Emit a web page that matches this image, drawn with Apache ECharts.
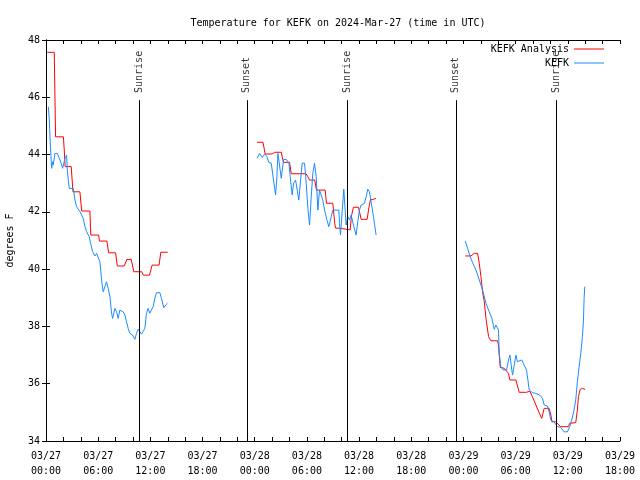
<!DOCTYPE html>
<html><head><meta charset="utf-8">
<script src="https://cdn.jsdelivr.net/npm/echarts@6/dist/echarts.min.js"></script>
<style>html,body{margin:0;padding:0;background:#fff}#c{width:640px;height:480px}</style>
</head><body><div id="c"></div>
<script>
// hours since 2024-03-27 00:00 UTC
const xTickLabels = ['03/27\n00:00','03/27\n06:00','03/27\n12:00','03/27\n18:00',
  '03/28\n00:00','03/28\n06:00','03/28\n12:00','03/28\n18:00',
  '03/29\n00:00','03/29\n06:00','03/29\n12:00','03/29\n18:00'];

// KEFK Analysis (red); null = data gap
const analysisTimes = [
  0.15,0.95,1.1,2.0,2.1,2.2,2.9,3.1,3.9,4.1,5.05,5.15,6.05,6.15,7.0,7.2,8.0,8.2,9.0,9.3,9.8,10.1,11.0,11.2,11.9,12.2,13.0,13.2,14.0,
  18,
  24.26,24.95,25.2,26.0,26.3,27.05,27.3,28.0,28.2,29.9,30.1,30.3,30.9,31.1,32.1,32.25,32.98,33.2,33.3,33.75,33.85,34.97,35.12,35.35,35.93,36.24,36.93,37.1,37.3,37.65,37.96,
  42,
  48.21,48.86,49.24,49.63,49.82,50.01,50.2,50.4,50.59,50.89,51.16,51.92,52.03,52.23,52.69,53.18,53.34,54.03,54.41,55.25,55.63,55.93,56.32,56.7,57.0,57.28,57.85,58.05,58.17,58.6,59.18,60.06,60.22,60.91,61.1,61.22,61.41,61.68,61.99
];
const analysisTemps = [
  47.57,47.57,44.62,44.62,44.16,43.58,43.58,42.70,42.70,42.03,42.03,41.19,41.19,40.98,40.98,40.57,40.57,40.11,40.11,40.34,40.34,39.91,39.91,39.79,39.79,40.14,40.14,40.59,40.59,
  null,
  44.43,44.43,44.02,44.02,44.08,44.08,43.73,43.73,43.33,43.33,43.23,43.11,43.11,42.76,42.76,42.30,42.30,41.60,41.43,41.43,41.37,41.37,41.85,42.16,42.16,41.74,41.74,42.10,42.42,42.44,42.47,
  null,
  40.46,40.46,40.55,40.55,40.20,39.74,39.21,38.86,38.28,37.64,37.50,37.50,37.35,36.57,36.54,36.36,36.13,36.13,35.70,35.70,35.74,35.55,35.26,34.99,34.79,35.14,35.14,34.91,34.67,34.67,34.50,34.50,34.62,34.64,35.08,35.55,35.80,35.84,35.80
];

// KEFK observations (blue); null = data gap
const obsTimes = [
  0.27,0.38,0.46,0.57,0.65,0.77,0.84,1.03,1.30,1.61,1.80,1.91,2.18,2.37,2.45,2.56,2.68,3.14,3.33,3.52,3.90,4.28,4.36,4.48,4.67,4.97,5.13,5.36,5.62,5.82,6.00,6.20,6.39,6.58,6.77,6.96,7.15,7.35,7.54,7.66,7.92,8.11,8.30,8.49,8.69,8.87,9.07,9.26,9.45,9.64,9.95,10.22,10.41,10.59,10.79,10.98,11.17,11.36,11.56,11.74,11.94,12.13,12.32,12.51,12.71,13.09,13.28,13.54,13.77,13.97,
  18,
  24.26,24.56,24.87,25.14,25.40,25.63,25.90,26.29,26.40,26.55,26.67,27.05,27.32,27.63,27.93,28.08,28.30,28.47,28.70,29.07,29.27,29.46,29.73,29.92,30.11,30.30,30.50,30.68,30.87,31.07,31.26,31.45,31.65,31.83,32.03,32.30,32.52,32.98,33.67,33.75,33.86,34.24,34.51,34.70,34.89,35.09,35.35,35.66,35.85,36.04,36.24,36.62,36.81,37.00,37.19,37.38,37.65,37.96,
  42,
  48.21,48.48,48.75,49.05,49.44,49.82,50.20,50.59,50.96,51.27,51.54,51.73,51.92,52.03,52.11,52.30,52.57,52.95,53.18,53.34,53.49,53.64,53.84,54.03,54.21,54.41,54.71,54.98,55.25,55.41,55.56,55.93,56.32,56.78,57.08,57.28,57.66,57.85,58.05,58.42,58.80,59.18,59.57,59.95,60.22,60.45,60.68,60.91,61.10,61.30,61.49,61.68,61.80,61.87,61.95
];
const obsTemps = [
  45.67,45.21,44.62,43.93,43.52,43.75,43.64,44.04,44.04,43.81,43.64,43.52,43.87,43.98,43.46,43.11,42.82,42.82,42.41,42.18,42.01,41.77,41.72,41.48,41.31,41.13,40.90,40.61,40.46,40.55,40.61,40.26,39.62,39.21,39.39,39.56,39.33,39.04,38.46,38.28,38.63,38.51,38.28,38.57,38.63,38.51,38.40,38.16,37.93,37.76,37.70,37.55,37.76,37.90,37.82,37.73,37.82,37.93,38.46,38.63,38.46,38.51,38.69,38.98,39.18,39.18,38.98,38.65,38.75,38.81,
  null,
  43.87,44.04,43.90,44.02,43.93,43.72,43.70,42.82,42.59,43.23,44.04,43.17,43.83,43.83,43.70,43.23,42.59,43.00,43.11,42.41,43.11,43.70,43.70,43.00,42.12,41.54,42.53,43.35,43.70,43.23,42.06,42.76,42.76,42.41,42.06,41.72,41.48,42.06,42.06,41.60,41.19,42.79,41.54,41.83,41.72,41.89,41.54,41.19,41.66,42.06,42.24,42.30,42.53,42.79,42.70,42.36,41.83,41.19,
  null,
  40.98,40.72,40.46,40.22,39.97,39.62,39.27,38.81,38.51,38.28,37.90,38.05,38.11,37.87,37.06,36.59,36.48,36.48,36.83,37.00,36.65,36.30,36.65,37.00,36.77,36.71,36.83,36.65,36.48,36.13,35.78,35.69,35.66,35.60,35.49,35.26,35.22,35.02,34.73,34.67,34.50,34.48,34.32,34.32,34.50,34.73,35.02,35.43,36.07,36.59,37.06,37.64,38.22,38.98,39.39
];

const sunEventTimes = [10.70, 23.10, 34.67, 47.12, 58.64];
const sunEventNames = ['Sunrise','Sunset','Sunrise','Sunset','Sunrise'];

const FONT = 'DejaVu Sans Mono';
const pairs = (ts, vs) => ts.map((t, i) => [t, vs[i] === null ? '-' : vs[i]]);
const yMin = 34, yMax = 48;
const sunLineTop = 45.9, sunLabelAt = 46.15;

const chart = echarts.init(document.getElementById('c'), null, {renderer: 'canvas'});
const axisCommon = {
  axisLine: {show: true, lineStyle: {color: '#000', width: 1}},
  axisTick: {show: true, inside: true, length: 4, lineStyle: {color: '#000'}},
  splitLine: {show: false}
};
chart.setOption({
  animation: false,
  backgroundColor: '#fff',
  textStyle: {fontFamily: FONT, fontSize: 10, color: '#000'},
  title: {
    text: 'Temperature for KEFK on 2024-Mar-27 (time in UTC)',
    left: 333, top: 13, textAlign: 'center',
    textStyle: {fontFamily: FONT, fontSize: 10, fontWeight: 'normal', color: '#000'}
  },
  legend: {
    orient: 'vertical', right: 31, top: 38, align: 'right',
    itemWidth: 30, itemHeight: 1, itemGap: 2, icon: 'rect',
    textStyle: {fontFamily: FONT, fontSize: 10, color: '#000', lineHeight: 12, padding: [0, 0, 0, 0]},
    data: ['KEFK Analysis', 'KEFK']
  },
  grid: {left: 46, right: 20, top: 40, bottom: 39, containLabel: false, outerBoundsMode: 'none'},
  xAxis: [
    Object.assign({
      type: 'value', min: 0, max: 66, interval: 2,
      axisLabel: {
        fontFamily: FONT, fontSize: 10, color: '#000', margin: 8, lineHeight: 15,
        formatter: v => (v % 6 === 0 ? xTickLabels[v / 6] : '')
      }
    }, axisCommon),
    Object.assign({
      type: 'value', min: 0, max: 66, interval: 2, position: 'top',
      axisLabel: {show: false}
    }, axisCommon)
  ],
  yAxis: [
    Object.assign({
      type: 'value', min: yMin, max: yMax, interval: 2,
      name: 'degrees F', nameLocation: 'middle', nameGap: 31, nameRotate: 90,
      nameTextStyle: {fontFamily: FONT, fontSize: 10, color: '#000'},
      axisLabel: {fontFamily: FONT, fontSize: 10, color: '#000', margin: 6}
    }, axisCommon),
    Object.assign({
      type: 'value', min: yMin, max: yMax, interval: 2, position: 'right',
      axisLabel: {show: false}
    }, axisCommon)
  ],
  series: [
    {
      name: 'KEFK Analysis', type: 'line', data: pairs(analysisTimes, analysisTemps),
      showSymbol: false, symbol: 'none', connectNulls: false,
      lineStyle: {color: '#ff0000', width: 1}, itemStyle: {color: '#ff0000'}, z: 3
    },
    {
      name: 'KEFK', type: 'line', data: pairs(obsTimes, obsTemps),
      showSymbol: false, symbol: 'none', connectNulls: false,
      lineStyle: {color: '#1a8cff', width: 1}, itemStyle: {color: '#1a8cff'}, z: 4
    },
    {
      name: 'sun', type: 'scatter', symbolSize: 0, silent: true,
      data: sunEventTimes.map((t, i) => ({value: [t, sunLabelAt], name: sunEventNames[i]})),
      label: {
        show: true, position: 'inside', rotate: 90, align: 'left', verticalAlign: 'middle',
        formatter: p => p.name, fontFamily: FONT, fontSize: 10, color: '#000'
      },
      markLine: {
        silent: true, symbol: ['none', 'none'], animation: false,
        lineStyle: {color: '#000', width: 1, type: 'solid'},
        label: {show: false},
        data: sunEventTimes.map(t => [{coord: [t, yMin]}, {coord: [t, sunLineTop]}])
      },
      z: 2
    }
  ]
});
</script></body></html>
